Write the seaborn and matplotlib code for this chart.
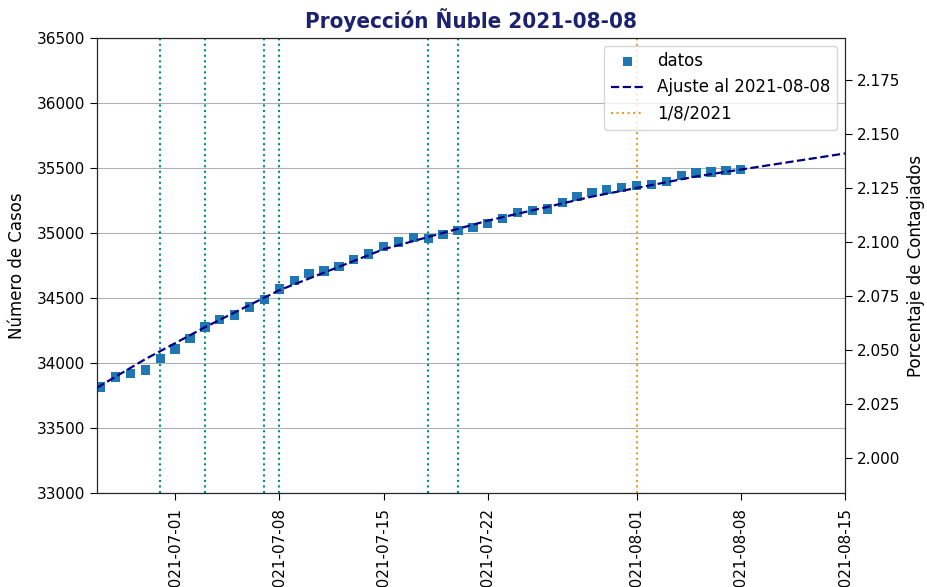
import matplotlib
matplotlib.use("Agg")
import matplotlib.pyplot as plt
import matplotlib.dates as mdates
import matplotlib.ticker as mticker
import seaborn as sns
import pandas as pd

# ---- data ----
fecha_inicio = "2021-06-26"
casos = [33815, 33892, 33919, 33945, 34033,
         34108, 34189, 34277, 34333, 34369, 34431, 34490, 34569, 34633, 34687,
         34708, 34742, 34795, 34838, 34894, 34930, 34965, 34960, 34986, 35020,
         35040, 35072, 35110, 35158, 35174, 35185, 35236, 35282, 35313, 35333,
         35351, 35366, 35372, 35397, 35441, 35462, 35469, 35479, 35487]
ajuste_fechas = ["2021-06-25 18:00", "2021-06-29 00:00", "2021-07-03 00:00", "2021-07-08 00:00",
                 "2021-07-15 00:00", "2021-07-22 00:00", "2021-07-29 00:00", "2021-08-05 00:00",
                 "2021-08-15 00:00"]
ajuste_valores = [33810, 34030, 34275, 34560, 34875, 35095, 35280, 35435, 35612]
eventos = ["2021-06-30", "2021-07-03", "2021-07-07", "2021-07-08", "2021-07-18", "2021-07-20"]
fecha_corte = "2021-08-01"
poblacion = 16634  # cases per 1 % (as plotted on right axis)
x_ticks = ["2021-07-01", "2021-07-08", "2021-07-15", "2021-07-22",
           "2021-08-01", "2021-08-08", "2021-08-15"]
y_ticks = [33000, 33500, 34000, 34500, 35000, 35500, 36000, 36500]
pct_ticks = [2.000, 2.025, 2.050, 2.075, 2.100, 2.125, 2.150, 2.175]

df = pd.DataFrame({"fecha": pd.date_range(fecha_inicio, periods=len(casos), freq="D"),
                   "casos": casos})
df_aj = pd.DataFrame({"fecha": pd.to_datetime(ajuste_fechas, format="%Y-%m-%d %H:%M"),
                      "casos": ajuste_valores})

sns.set_style("white")
plt.rcParams["font.family"] = ["DejaVu Sans"]
plt.rcParams.update({"text.color": "black", "axes.labelcolor": "black",
                     "xtick.color": "black", "ytick.color": "black"})

fig = plt.figure(figsize=(9.28, 5.87), dpi=100)
ax = fig.add_axes([97 / 928, 1 - 493 / 587, (845 - 97) / 928, (493 - 38) / 587])

ax.grid(axis="y", color="#b0b0b0", linewidth=0.8)
ax.set_axisbelow(True)

for f in eventos:
    ax.axvline(pd.Timestamp(f), color="darkcyan", linestyle=":", linewidth=1.5, zorder=1)

sns.scatterplot(data=df, x="fecha", y="casos", ax=ax, marker="s", s=45,
                color="#1f77b4", edgecolor="none", label="datos", zorder=3)
sns.lineplot(data=df_aj, x="fecha", y="casos", ax=ax, color="navy",
             linestyle="--", linewidth=1.6, label="Ajuste al 2021-08-08", zorder=4)
ax.axvline(pd.Timestamp(fecha_corte), color="#e89a2c", linestyle=":", linewidth=1.5,
           label="1/8/2021", zorder=2)

ax.set_xlim(pd.Timestamp("2021-06-25 18:00"), pd.Timestamp("2021-08-15"))
ax.set_ylim(33000, 36500)
ax.set_yticks(y_ticks)
ax.set_xticks(pd.to_datetime(x_ticks))
ax.xaxis.set_major_formatter(mdates.DateFormatter("%Y-%m-%d"))
plt.setp(ax.get_xticklabels(), rotation=90)
ax.tick_params(axis="both", labelsize=11, length=5, width=0.8, left=True, bottom=True,
               colors="black")
ax.tick_params(axis="x", pad=5)
ax.set_xlabel("")
ax.set_ylabel("Número de Casos", fontsize=12, labelpad=8, color="black")
for sp in ax.spines.values():
    sp.set_color("black")
    sp.set_linewidth(0.8)

ax.set_title("Proyección Ñuble 2021-08-08", fontsize=16, fontweight="bold",
             fontstretch="condensed", color="#1c2270", pad=7)

leg = ax.legend(loc="upper right", fontsize=12, frameon=True, borderaxespad=0.45)
for t in leg.get_texts():
    t.set_color("black")

ax2 = ax.twinx()
ax2.set_ylim(33000 / poblacion, 36500 / poblacion)
ax2.set_yticks(pct_ticks)
ax2.yaxis.set_major_formatter(mticker.FormatStrFormatter("%.3f"))
ax2.tick_params(axis="y", labelsize=11, length=5, width=0.8, right=True, colors="black")
ax2.set_ylabel("Porcentaje de Contagiados", fontsize=12, labelpad=5, color="black")
ax2.grid(False)

fig.savefig("out.png", dpi=100)
